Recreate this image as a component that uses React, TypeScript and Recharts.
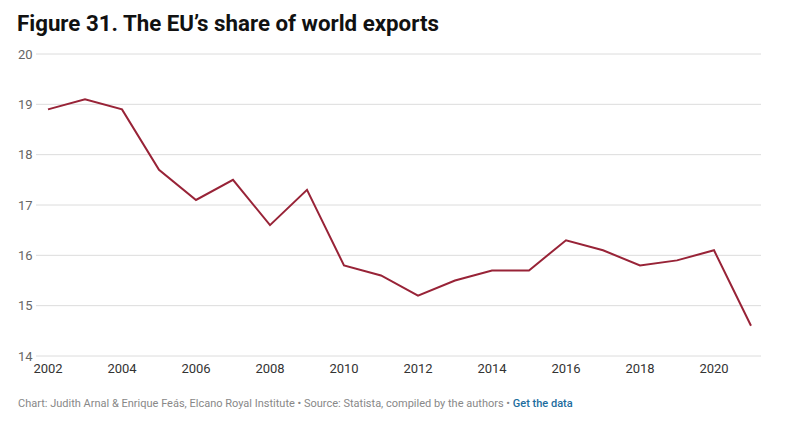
import { type JSX } from 'react'
import { LineChart, Line, XAxis, YAxis, CartesianGrid } from 'recharts'

const YEARS = [
  2002, 2003, 2004, 2005, 2006, 2007, 2008, 2009, 2010, 2011,
  2012, 2013, 2014, 2015, 2016, 2017, 2018, 2019, 2020, 2021,
]
const EU_SHARE = [
  18.9, 19.1, 18.9, 17.7, 17.1, 17.5, 16.6, 17.3, 15.8, 15.6,
  15.2, 15.5, 15.7, 15.7, 16.3, 16.1, 15.8, 15.9, 16.1, 14.6,
]
const X_TICKS = [2002, 2004, 2006, 2008, 2010, 2012, 2014, 2016, 2018, 2020]
const Y_TICKS = [14, 15, 16, 17, 18, 19, 20]

const data = YEARS.map((year, i) => ({ year, share: EU_SHARE[i] }))

const FONT = 'Roboto, "Noto Sans", sans-serif'
const LINE_COLOR = '#982337'

interface TickProps {
  x?: number
  y?: number
  payload?: { value: number }
}

const YTick = ({ y, payload }: TickProps): JSX.Element => (
  <text x={18} y={y} dy={4.5} textAnchor="start" fontSize={13} fill="#666" fontFamily={FONT}>
    {payload?.value}
  </text>
)

const XTick = ({ x, y, payload }: TickProps): JSX.Element => (
  <text x={x} y={y} dy={9} textAnchor="middle" fontSize={13} fill="#333" fontFamily={FONT}>
    {payload?.value}
  </text>
)

export default function App(): JSX.Element {
  return (
    <div
      style={{
        position: 'absolute',
        left: 0,
        top: 0,
        width: 793,
        height: 436,
        background: '#fff',
        fontFamily: FONT,
        overflow: 'hidden',
      }}
    >
      <div
        style={{
          position: 'absolute',
          left: 17,
          top: 10,
          fontSize: 22.3,
          fontWeight: 700,
          color: '#111',
          whiteSpace: 'nowrap',
        }}
      >
        Figure 31. The EU’s share of world exports
      </div>
      <div style={{ position: 'absolute', left: 0, top: 0 }}>
        <LineChart
          width={793}
          height={385}
          data={data}
          margin={{ top: 54, right: 32, bottom: 5, left: 8 }}
        >
          <CartesianGrid vertical={false} stroke="#dcdcdc" strokeWidth={1} />
          <XAxis
            dataKey="year"
            type="number"
            domain={[2002, 2021]}
            ticks={X_TICKS}
            padding={{ left: 12, right: 10 }}
            axisLine={false}
            tickLine={false}
            height={24}
            tick={<XTick />}
            interval={0}
          />
          <YAxis
            domain={[14, 20]}
            ticks={Y_TICKS}
            width={28}
            axisLine={false}
            tickLine={false}
            tick={<YTick />}
            interval={0}
          />
          <Line
            type="linear"
            dataKey="share"
            stroke={LINE_COLOR}
            strokeWidth={2}
            dot={false}
            activeDot={false}
            isAnimationActive={false}
          />
        </LineChart>
      </div>
      <div
        style={{
          position: 'absolute',
          left: 18,
          top: 397,
          fontSize: 11,
          color: '#888',
          whiteSpace: 'nowrap',
        }}
      >
        Chart: Judith Arnal &amp; Enrique Feás, Elcano Royal Institute • Source: Statista, compiled by the authors •{' '}
        <span style={{ color: '#1d6d9e', fontWeight: 500 }}>Get the data</span>
      </div>
    </div>
  )
}
